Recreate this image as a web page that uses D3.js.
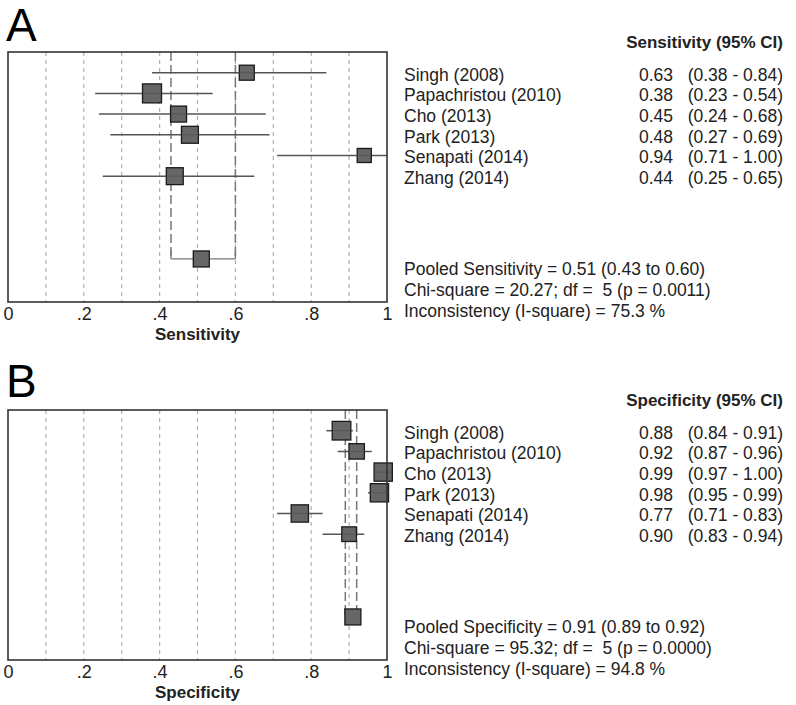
<!DOCTYPE html>
<html><head><meta charset="utf-8">
<script src="https://cdn.jsdelivr.net/npm/d3@7/dist/d3.min.js"></script>
<style>body{margin:0;background:#fff;} svg{display:block;font-family:"Liberation Sans",Arial,sans-serif;}</style>
</head><body>
<svg id="c" width="796" height="705"></svg>
<script>
const studies = ["Singh (2008)", "Papachristou (2010)", "Cho (2013)", "Park (2013)", "Senapati (2014)", "Zhang (2014)"];
const sens = [0.63, 0.38, 0.45, 0.48, 0.94, 0.44];
const sensLo = [0.38, 0.23, 0.24, 0.27, 0.71, 0.25];
const sensHi = [0.84, 0.54, 0.68, 0.69, 1.00, 0.65];
const sensWeight = [0.79, 1.00, 0.84, 0.89, 0.74, 0.89];
const sensPooled = {est: 0.51, lo: 0.43, hi: 0.60};
const sensStats = ["Pooled Sensitivity = 0.51 (0.43 to 0.60)", "Chi-square = 20.27; df =  5 (p = 0.0011)", "Inconsistency (I-square) = 75.3 %"];

const spec = [0.88, 0.92, 0.99, 0.98, 0.77, 0.90];
const specLo = [0.84, 0.87, 0.97, 0.95, 0.71, 0.83];
const specHi = [0.91, 0.96, 1.00, 0.99, 0.83, 0.94];
const specWeight = [0.98, 0.81, 0.96, 0.96, 0.91, 0.77];
const specPooled = {est: 0.91, lo: 0.89, hi: 0.92};
const specStats = ["Pooled Specificity = 0.91 (0.89 to 0.92)", "Chi-square = 95.32; df =  5 (p = 0.0000)", "Inconsistency (I-square) = 94.8 %"];

const tickValues = [0, 0.2, 0.4, 0.6, 0.8, 1];
const gridValues = [0.1, 0.2, 0.3, 0.4, 0.5, 0.6, 0.7, 0.8, 0.9];

const svg = d3.select("#c");
const FS = 17.5;

function panel(opt) {
  const g = svg.append("g");
  const x = d3.scaleLinear().domain([0, 1]).range([8, 387]);
  const y = d3.scaleLinear().domain([0, 12.08]).range([opt.top, opt.top + 250]);
  const size = d3.scaleLinear().domain([0, 1]).range([0, 19]);

  g.append("text").attr("x", 6).attr("y", opt.top - 11 + (opt.letter === "A" ? 0 : -2))
    .attr("font-size", 46).attr("fill", "#000").text(opt.letter);

  // grid
  g.selectAll(".grid").data(gridValues).join("line")
    .attr("x1", d => x(d)).attr("x2", d => x(d))
    .attr("y1", y(0)).attr("y2", y(12.08))
    .attr("stroke", "#b0b0b0").attr("stroke-width", 1.2).attr("stroke-dasharray", "4,4");

  // pooled dashed verticals
  [opt.pooled.lo, opt.pooled.hi].forEach(v => {
    g.append("line").attr("x1", x(v)).attr("x2", x(v))
      .attr("y1", y(0)).attr("y2", y(10))
      .attr("stroke", "#777").attr("stroke-width", 1.5).attr("stroke-dasharray", "9,4");
  });
  // pooled CI line
  g.append("line").attr("x1", x(opt.pooled.lo)).attr("x2", x(opt.pooled.hi))
    .attr("y1", y(10)).attr("y2", y(10)).attr("stroke", "#777").attr("stroke-width", 1.3);
  [opt.pooled.lo, opt.pooled.hi].forEach(v => {
    g.append("line").attr("x1", x(v)).attr("x2", x(v)).attr("y1", y(10) - 9).attr("y2", y(10))
      .attr("stroke", "#777").attr("stroke-width", 1.3);
  });

  // CI lines
  opt.est.forEach((d, i) => {
    g.append("line").attr("x1", x(opt.lo[i])).attr("x2", x(opt.hi[i]))
      .attr("y1", y(i + 1)).attr("y2", y(i + 1))
      .attr("stroke", "#555").attr("stroke-width", 1.5);
  });
  // squares
  opt.est.forEach((d, i) => {
    const s = size(opt.w[i]);
    g.append("rect").attr("x", x(d) - s / 2).attr("y", y(i + 1) - s / 2)
      .attr("width", s).attr("height", s)
      .attr("fill", "#666").attr("stroke", "#1a1a1a").attr("stroke-width", 1.3);
    g.append("line").attr("x1", x(d) - s / 2).attr("x2", x(d) + s / 2)
      .attr("y1", y(i + 1)).attr("y2", y(i + 1))
      .attr("stroke", "#555").attr("stroke-width", 1);
  });
  const ps = 16;
  g.append("rect").attr("x", x(opt.pooled.est) - ps / 2).attr("y", y(10) - ps / 2)
    .attr("width", ps).attr("height", ps)
    .attr("fill", "#666").attr("stroke", "#1a1a1a").attr("stroke-width", 1.3);

  // box
  g.append("rect").attr("x", x(0)).attr("y", y(0)).attr("width", x(1) - x(0)).attr("height", y(12.08) - y(0))
    .attr("fill", "none").attr("stroke", "#333").attr("stroke-width", 1.6);

  // axis
  const ax = g.append("g").attr("transform", `translate(0,${y(12.08)})`)
    .call(d3.axisBottom(x).tickValues(tickValues).tickSize(0).tickPadding(5)
      .tickFormat(d => d === 0 ? "0" : d === 1 ? "1" : d3.format(".1f")(d).replace(/^0/, "")));
  ax.select(".domain").remove();
  ax.selectAll("text").attr("font-size", 18).attr("fill", "#222").attr("font-family", "Liberation Sans, Arial, sans-serif");
  g.append("text").attr("x", x(0.5)).attr("y", y(12.08) + 38).attr("text-anchor", "middle")
    .attr("font-size", 17).attr("font-weight", "bold").attr("fill", "#222").text(opt.title);

  // right table
  g.append("text").attr("x", 783).attr("y", y(-0.5) + 6).attr("text-anchor", "end")
    .attr("font-size", 17).attr("font-weight", "bold").attr("fill", "#222").text(opt.title + " (95% CI)");
  studies.forEach((s, i) => {
    const yy = y(i + 1) + 8;
    g.append("text").attr("x", 404).attr("y", yy).attr("font-size", FS).attr("fill", "#222").text(s);
    g.append("text").attr("x", 673).attr("y", yy).attr("text-anchor", "end").attr("font-size", FS).attr("fill", "#222")
      .text(d3.format(".2f")(opt.est[i]));
    g.append("text").attr("x", 783).attr("y", yy).attr("text-anchor", "end").attr("font-size", FS).attr("fill", "#222")
      .text(`(${d3.format(".2f")(opt.lo[i])} - ${d3.format(".2f")(opt.hi[i])})`);
  });
  opt.stats.forEach((s, i) => {
    g.append("text").attr("x", 404).attr("y", y(10.5 + i) + 6).attr("font-size", FS).attr("fill", "#222")
      .attr("xml:space", "preserve").style("white-space", "pre").text(s);
  });
}

panel({letter: "A", top: 52, title: "Sensitivity", est: sens, lo: sensLo, hi: sensHi, w: sensWeight, pooled: sensPooled, stats: sensStats});
panel({letter: "B", top: 410, title: "Specificity", est: spec, lo: specLo, hi: specHi, w: specWeight, pooled: specPooled, stats: specStats});
</script>
</body></html>
